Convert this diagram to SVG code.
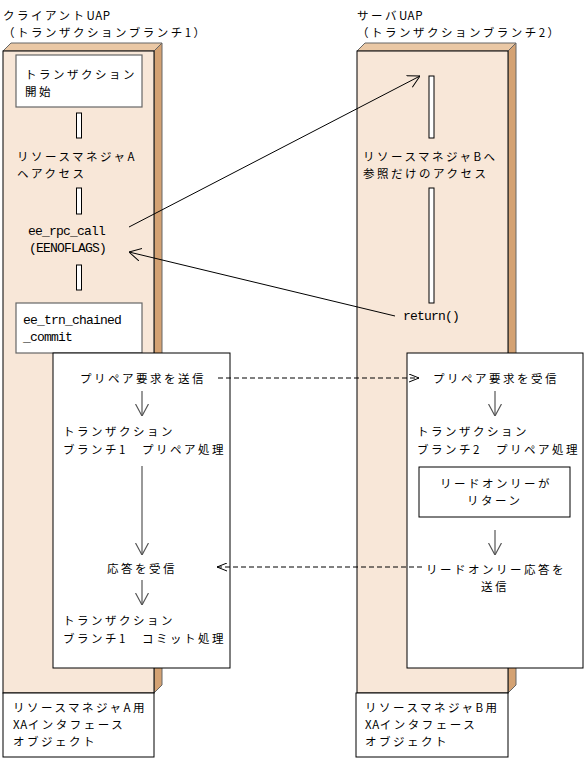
<svg xmlns="http://www.w3.org/2000/svg" width="587" height="760" viewBox="0 0 587 760">
<style>
.t{font-family:"Noto Sans CJK JP","Noto Sans",sans-serif;font-size:11.5px;letter-spacing:2.5px;fill:#000}
.l{letter-spacing:0.6px}
.m{font-family:"Liberation Mono","Noto Sans CJK JP",monospace;font-size:13px;letter-spacing:-0.8px;fill:#000}
.front{fill:#f8e7d8;stroke:#000;stroke-width:1}
.top{fill:#eac8a5;stroke:#666;stroke-width:1}
.side{fill:#d4a273;stroke:#666;stroke-width:1}
.box{fill:#fff;stroke:#000;stroke-width:1}
.gbox{fill:#fff;stroke:#666;stroke-width:1.2}
.bar{fill:#fff;stroke:#000;stroke-width:1}
.ln{fill:none;stroke:#000;stroke-width:1}
.gl{fill:none;stroke:#555;stroke-width:1.2}
.dl{fill:none;stroke:#000;stroke-width:1;stroke-dasharray:5 3}
</style>
<defs>
<marker id="v" viewBox="0 0 12 14" refX="12" refY="7" markerWidth="12" markerHeight="14" markerUnits="userSpaceOnUse" orient="auto">
<path d="M0,0.5 L12,7 L0,13.5" fill="none" stroke="#000" stroke-width="1"/>
</marker>
<marker id="vg" viewBox="0 0 12 14" refX="12" refY="7" markerWidth="12" markerHeight="14" markerUnits="userSpaceOnUse" orient="auto">
<path d="M0,0.5 L12,7 L0,13.5" fill="none" stroke="#555" stroke-width="1.2"/>
</marker>
<marker id="d" viewBox="0 0 10 9" refX="10" refY="4.5" markerWidth="10" markerHeight="9" markerUnits="userSpaceOnUse" orient="auto">
<path d="M0,0.5 L10,4.5 L0,8.5" fill="none" stroke="#000" stroke-width="1"/>
</marker>
</defs>

<g id="title-client">
<text class="t" x="3" y="20">クライアント<tspan class="l">UAP</tspan></text>
<text class="t" x="3" y="37">（トランザクションブランチ1）</text>
</g>
<g id="title-server">
<text class="t" x="357" y="20">サーバ<tspan class="l">UAP</tspan></text>
<text class="t" x="357" y="37">（トランザクションブランチ2）</text>
</g>

<g id="client-panel">
<polygon class="top" points="3,51 11,43 162,43 154,51"/>
<polygon class="side" points="154,51 162,43 162,685 154,693"/>
<rect class="front" x="3" y="51" width="151" height="642"/>
</g>
<g id="server-panel">
<polygon class="top" points="357,51 365,43 516,43 508,51"/>
<polygon class="side" points="508,51 516,43 516,685 508,693"/>
<rect class="front" x="357" y="51" width="151" height="642"/>
</g>

<g id="tx-start">
<rect class="gbox" x="16" y="55" width="126" height="52"/>
<text class="t" x="25" y="79">トランザクション</text>
<text class="t" x="25" y="96">開始</text>
</g>
<g id="bar-a1"><rect class="bar" x="76.5" y="113" width="5" height="25"/></g>
<g id="rm-a-access">
<text class="t" x="17" y="161">リソースマネジャA</text>
<text class="t" x="17" y="178">ヘアクセス</text>
</g>
<g id="bar-a2"><rect class="bar" x="76.5" y="188" width="5" height="26"/></g>
<g id="rpc-call">
<text class="m" x="28" y="235">ee_rpc_call</text>
<text class="m" x="29" y="252">(EENOFLAGS)</text>
</g>
<g id="bar-a3"><rect class="bar" x="76.5" y="265" width="5" height="25"/></g>
<g id="chained-commit">
<rect class="gbox" x="16" y="303" width="126" height="50"/>
<text class="m" x="23" y="324">ee_trn_chained</text>
<text class="m" x="23" y="341">_commit</text>
</g>

<g id="bar-b1"><rect class="bar" x="429" y="76" width="5" height="62"/></g>
<g id="rm-b-access">
<text class="t" x="363" y="161">リソースマネジャBへ</text>
<text class="t" x="363" y="178">参照だけのアクセス</text>
</g>
<g id="bar-b2"><rect class="bar" x="429" y="188" width="5" height="115"/></g>
<g id="return"><text class="m" x="403" y="320">return()</text></g>

<g id="client-prepare">
<rect class="box" x="53" y="353" width="177" height="315"/>
<text class="t" x="80" y="383">プリペア要求を送信</text>
<text class="t" x="63" y="436">トランザクション</text>
<text class="t" x="63" y="454">ブランチ1　プリペア処理</text>
<text class="t" x="107" y="573">応答を受信</text>
<text class="t" x="63" y="625">トランザクション</text>
<text class="t" x="63" y="643">ブランチ1　コミット処理</text>
</g>
<g id="server-prepare">
<rect class="box" x="407" y="353" width="176" height="315"/>
<text class="t" x="433" y="383">プリペア要求を受信</text>
<text class="t" x="417" y="436">トランザクション</text>
<text class="t" x="417" y="454">ブランチ2　プリペア処理</text>
<text class="t" x="426" y="574">リードオンリー応答を</text>
<text class="t" x="481" y="591">送信</text>
</g>
<g id="readonly-return">
<rect class="box" x="419" y="467" width="151" height="50"/>
<text class="t" x="440" y="488">リードオンリーが</text>
<text class="t" x="467" y="505">リターン</text>
</g>

<g id="xa-a">
<rect class="box" x="3" y="693" width="151" height="64"/>
<text class="t" x="13" y="712">リソースマネジャA用</text>
<text class="t" x="13" y="729"><tspan class="l">XA</tspan>インタフェース</text>
<text class="t" x="13" y="746">オブジェクト</text>
</g>
<g id="xa-b">
<rect class="box" x="356" y="693" width="152" height="64"/>
<text class="t" x="365" y="712">リソースマネジャB用</text>
<text class="t" x="365" y="729"><tspan class="l">XA</tspan>インタフェース</text>
<text class="t" x="365" y="746">オブジェクト</text>
</g>

<g id="connectors">
<line class="ln" x1="129" y1="227" x2="420" y2="76" marker-end="url(#v)"/>
<line class="ln" x1="395" y1="316" x2="129" y2="252" marker-end="url(#v)"/>
<line class="gl" x1="142" y1="391" x2="142" y2="416" marker-end="url(#vg)"/>
<line class="gl" x1="142" y1="466" x2="142" y2="555" marker-end="url(#vg)"/>
<line class="gl" x1="142" y1="580" x2="142" y2="605" marker-end="url(#vg)"/>
<line class="gl" x1="495" y1="391" x2="495" y2="416" marker-end="url(#vg)"/>
<line class="gl" x1="495" y1="530" x2="495" y2="555" marker-end="url(#vg)"/>
<line class="dl" x1="218" y1="378" x2="419" y2="378" marker-end="url(#d)"/>
<line class="dl" x1="422" y1="567" x2="217" y2="567" marker-end="url(#d)"/>
</g>
</svg>
